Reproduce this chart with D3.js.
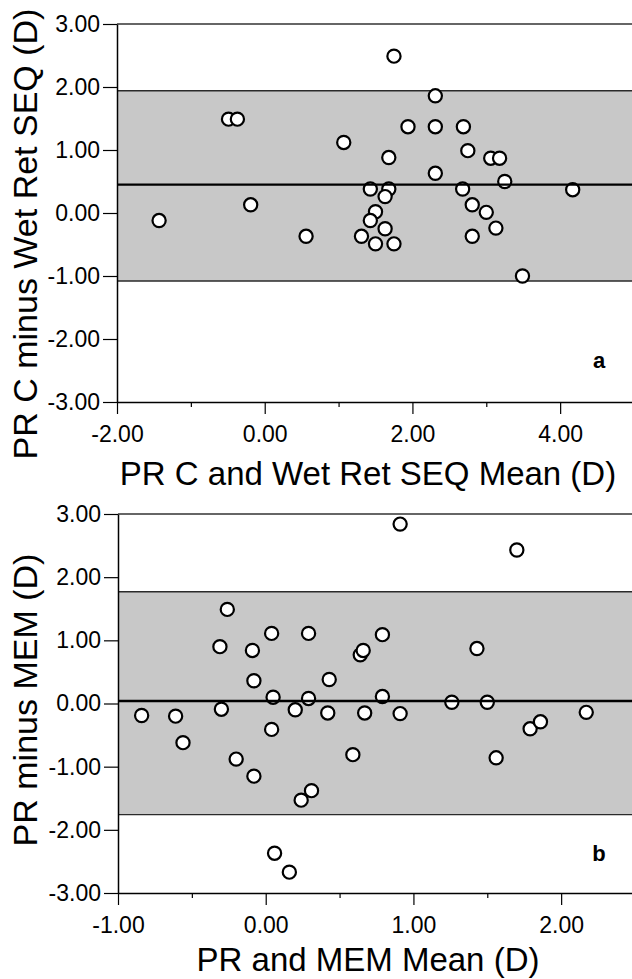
<!DOCTYPE html>
<html>
<head>
<meta charset="utf-8">
<script src="https://cdn.jsdelivr.net/npm/d3@7"></script>
<style>
  html, body { margin: 0; padding: 0; background: #fff; }
  svg { display: block; }
  text { font-family: "Liberation Sans", Arial, Helvetica, sans-serif; fill: #000; }
</style>
</head>
<body>
<svg id="chart" width="632" height="979"></svg>
<script>
// ---------- DATA ----------
// Panel a: PR C vs Wet Ret SEQ
const aMean = [-1.43, -0.49, -0.37, -0.19, 0.56, 1.07, 1.75, 1.94, 2.31, 2.31, 2.31, 2.69, 2.75, 3.06, 3.18, 3.25, 4.17,
               1.68, 1.43, 1.68, 1.63, 1.50, 1.43, 1.63, 1.31, 1.50, 1.75, 2.68, 2.81, 3.00, 3.13, 2.81, 3.49];
const aDiff = [-0.12, 1.49, 1.49, 0.13, -0.37, 1.12, 2.49, 1.37, 1.86, 1.37, 0.63, 1.37, 0.99, 0.87, 0.87, 0.50, 0.37,
               0.88, 0.38, 0.38, 0.26, 0.02, -0.12, -0.25, -0.37, -0.49, -0.49, 0.38, 0.13, 0.01, -0.24, -0.37, -1.00];
const aLimits = { mean: 0.45, upper: 1.94, lower: -1.08 };
const aXTicks = [-2, 0, 2, 4];
const aXMinor = [-1, 1, 3, 5];

// Panel b: PR vs MEM
const bMean = [0.91, 1.70, -0.26, -0.31, -0.09, 0.04, 0.29, 0.79, 0.64, 0.66, 1.43, -0.08, 0.43, 0.05, 0.29, 0.79, 1.26, 1.50,
               -0.84, -0.61, -0.30, 0.20, 0.42, 0.67, 0.91, 2.17, 0.04, 1.79, 1.86, -0.56, -0.20, -0.08, 0.59, 1.56, 0.24, 0.31, 0.06, 0.16];
const bDiff = [2.84, 2.43, 1.49, 0.90, 0.84, 1.11, 1.11, 1.09, 0.77, 0.84, 0.87, 0.36, 0.38, 0.10, 0.08, 0.11, 0.02, 0.02,
               -0.19, -0.20, -0.09, -0.10, -0.15, -0.15, -0.16, -0.14, -0.41, -0.40, -0.29, -0.62, -0.88, -1.15, -0.81, -0.86, -1.53, -1.38, -2.37, -2.67];
const bLimits = { mean: 0.04, upper: 1.77, lower: -1.76 };
const bXTicks = [-1, 0, 1, 2];
const bXMinor = [-0.5, 0.5, 1.5, 2.5];

const yTicks = [-3, -2, -1, 0, 1, 2, 3];

const panels = [
  { mean: aMean, diff: aDiff, lim: aLimits, xDomain: [-2, 5], xTicks: aXTicks, xMinor: aXMinor,
    xRange: [117, 634], yRange: [402, 24], label: "a",
    xTitle: "PR C and Wet Ret SEQ Mean (D)", yTitle: "PR C minus Wet Ret SEQ (D)",
    xTitleY: 485, yTitleC: 234, labelY: 368 },
  { mean: bMean, diff: bDiff, lim: bLimits, xDomain: [-1, 2.5], xTicks: bXTicks, xMinor: bXMinor,
    xRange: [118, 635], yRange: [893, 514], label: "b",
    xTitle: "PR and MEM Mean (D)", yTitle: "PR minus MEM (D)",
    xTitleY: 971, yTitleC: 700, labelY: 861 }
];

const svg = d3.select("#chart");
const fmt = d => d.toFixed(2);

panels.forEach(p => {
  const x = d3.scaleLinear().domain(p.xDomain).range(p.xRange);
  const y = d3.scaleLinear().domain([-3, 3]).range(p.yRange);
  const g = svg.append("g");
  const x0 = p.xRange[0], x1 = 632;

  // agreement band
  g.append("rect")
    .attr("x", x0).attr("width", x1 - x0)
    .attr("y", y(p.lim.upper)).attr("height", y(p.lim.lower) - y(p.lim.upper))
    .attr("fill", "#c8c8c8");
  [p.lim.upper, p.lim.lower].forEach(v => {
    g.append("line").attr("x1", x0).attr("x2", x1).attr("y1", y(v)).attr("y2", y(v))
      .attr("stroke", "#2a2a2a").attr("stroke-width", 1.4);
  });
  // top frame line
  g.append("line").attr("x1", x0).attr("x2", x1).attr("y1", y(3)).attr("y2", y(3))
    .attr("stroke", "#333").attr("stroke-width", 1.5);

  // points
  g.selectAll("circle.pt").data(p.mean.map((m, i) => [m, p.diff[i]])).enter()
    .append("circle").attr("class", "pt")
    .attr("cx", d => x(d[0])).attr("cy", d => y(d[1])).attr("r", 6.6)
    .attr("fill", "#fff").attr("stroke", "#000").attr("stroke-width", 2.2);

  // mean line
  g.append("line").attr("x1", x0).attr("x2", x1).attr("y1", y(p.lim.mean)).attr("y2", y(p.lim.mean))
    .attr("stroke", "#000").attr("stroke-width", 2.4);

  // y axis
  const ya = g.append("g").attr("transform", `translate(${x0},0)`)
    .call(d3.axisLeft(y).tickValues(yTicks).tickFormat(fmt).tickSize(14).tickSizeOuter(0).tickPadding(3));
  ya.select(".domain").attr("stroke", "#000").attr("stroke-width", 1.5);
  ya.selectAll(".tick line").attr("stroke", "#000").attr("stroke-width", 1.2);
  ya.selectAll(".tick text").style("font-size", "23px").attr("fill", "#000");

  // x axis major
  const xa = g.append("g").attr("transform", `translate(0,${y(-3)})`)
    .call(d3.axisBottom(x).tickValues(p.xTicks).tickFormat(fmt).tickSize(12).tickSizeOuter(0).tickPadding(8));
  xa.select(".domain").attr("stroke", "#000").attr("stroke-width", 1.5);
  xa.selectAll(".tick line").attr("stroke", "#000").attr("stroke-width", 1.2);
  xa.selectAll(".tick text").style("font-size", "23px").attr("fill", "#000").attr("dy", "0.85em");
  // x axis minor
  const xm = g.append("g").attr("transform", `translate(0,${y(-3)})`)
    .call(d3.axisBottom(x).tickValues(p.xMinor).tickFormat("").tickSize(5).tickSizeOuter(0));
  xm.select(".domain").remove();
  xm.selectAll(".tick line").attr("stroke", "#000").attr("stroke-width", 1.2);

  // titles
  g.append("text").attr("x", 368).attr("y", p.xTitleY).attr("text-anchor", "middle")
    .style("font-size", "33px").text(p.xTitle);
  g.append("text").attr("transform", `translate(37,${p.yTitleC}) rotate(-90)`).attr("text-anchor", "middle")
    .style("font-size", "34px").text(p.yTitle);

  // panel label
  g.append("text").attr("x", 599).attr("y", p.labelY).attr("text-anchor", "middle")
    .style("font-size", "22px").style("font-weight", "bold").text(p.label);
});
</script>
</body>
</html>
